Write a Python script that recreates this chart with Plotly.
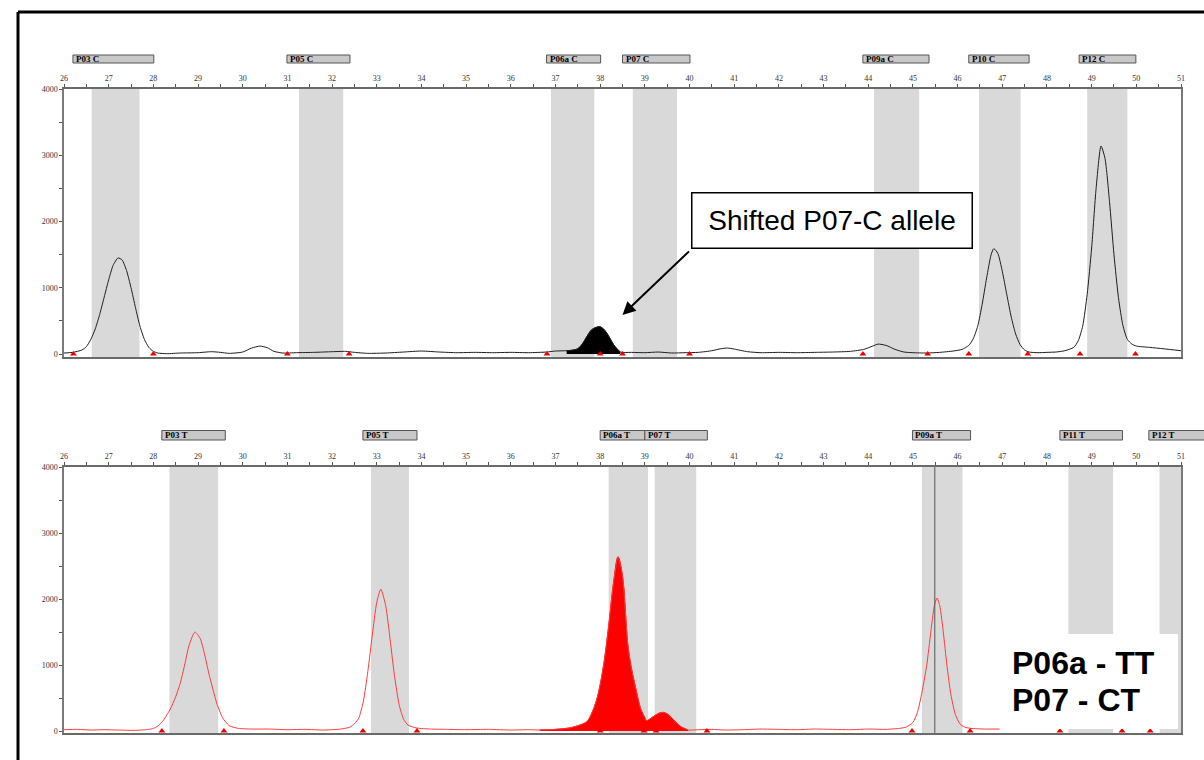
import plotly.graph_objects as go

# ---------------- data ----------------
X_RANGE = [26, 51]
y_tick_vals = [0, 1000, 2000, 3000, 4000]

# top panel (C channel) bins / bands
top_bins = ["P03 C", "P05 C", "P06a C", "P07 C", "P09a C", "P10 C", "P12 C"]
top_bin_start = [26.20, 30.99, 36.80, 38.50, 43.88, 46.25, 48.72]
top_bin_end = [28.01, 32.40, 38.01, 40.01, 45.36, 47.60, 49.99]
top_band_start = [26.62, 31.26, 36.90, 38.73, 44.13, 46.48, 48.90]
top_band_end = [27.69, 32.25, 37.87, 39.72, 45.14, 47.41, 49.80]
top_marker_x = [26.21, 28.0, 31.0, 32.38, 36.81, 38.0, 38.5, 40.0, 43.88, 45.33, 46.25, 47.57, 48.74, 49.98]

# bottom panel (T channel) bins / bands
bot_bins = ["P03 T", "P05 T", "P06a T", "P07 T", "P09a T", "P11 T", "P12 T"]
bot_bin_start = [28.19, 32.69, 38.00, 39.00, 44.99, 48.29, 50.28]
bot_bin_end = [29.61, 33.90, 39.00, 40.40, 46.29, 49.69, 51.60]
bot_band_start = [28.36, 32.87, 38.19, 39.22, 45.20, 48.48, 50.52]
bot_band_end = [29.45, 33.72, 39.07, 40.15, 46.11, 49.48, 51.00]
bot_marker_x = [28.19, 29.58, 32.69, 33.90, 38.0, 38.98, 39.25, 40.39, 44.98, 46.28, 48.29, 49.68, 50.31]
bot_cursor_x = 45.49

# top trace
top_x = [26.0, 26.2, 26.4, 26.5, 26.6, 26.7, 26.8, 26.9, 27.0, 27.1, 27.21, 27.3, 27.4, 27.5, 27.6, 27.7,
         27.8, 27.9, 28.0, 28.1, 28.3, 28.6, 29.0, 29.3, 29.5, 29.7, 30.0, 30.2, 30.39, 30.55, 30.7, 30.9,
         31.2, 31.6, 32.0, 32.3, 32.5, 32.8, 33.2, 33.6, 34.0, 34.4, 34.8, 35.2, 35.6, 36.0, 36.4, 36.8,
         37.0, 37.25, 37.4, 37.5, 37.6, 37.7, 37.8, 37.9, 38.0, 38.1, 38.2, 38.3, 38.45, 38.7, 39.0, 39.3,
         39.6, 39.9, 40.2, 40.5, 40.7, 40.85, 41.0, 41.3, 41.6, 42.0, 42.4, 42.8, 43.2, 43.6, 43.9, 44.1,
         44.22, 44.4, 44.6, 44.8, 45.0, 45.3, 45.6, 45.9, 46.1, 46.25, 46.35, 46.45, 46.55, 46.65, 46.75,
         46.81, 46.9, 47.0, 47.1, 47.2, 47.3, 47.4, 47.5, 47.6, 47.8, 48.0, 48.2, 48.4, 48.6, 48.7, 48.8,
         48.9, 49.0, 49.1, 49.21, 49.3, 49.4, 49.5, 49.6, 49.7, 49.8, 49.9, 50.0, 50.3, 50.6, 51.0]
top_y = [15, 25, 60, 110, 220, 380, 600, 860, 1120, 1340, 1450, 1420, 1260, 1000, 700, 420,
         220, 100, 40, 15, 5, 15, 20, 35, 25, 10, 30, 90, 120, 95, 40, 15,
         20, 25, 35, 40, 25, 10, 15, 30, 45, 30, 20, 25, 20, 25, 20, 30,
         45, 50, 60, 80, 150, 260, 360, 400, 410, 360, 260, 140, 30, 25, 20, 30,
         15, 20, 25, 50, 80, 90, 75, 35, 20, 25, 20, 25, 30, 40, 70, 120,
         150, 130, 70, 30, 20, 15, 25, 45, 70, 130, 230, 420, 750, 1150, 1500,
         1590, 1520, 1250, 900, 560, 300, 140, 60, 30, 20, 25, 30, 50, 100, 200, 420,
         900, 1600, 2500, 3140, 2950, 2300, 1500, 850, 430, 220, 150, 120, 100, 80, 50]
top_fill_range = [37.25, 38.45]

# bottom trace
bot_x = [26.0, 26.3, 26.6, 26.9, 27.2, 27.6, 27.9, 28.0, 28.1, 28.2, 28.37, 28.5, 28.6, 28.7, 28.8,
         28.93, 29.05, 29.15, 29.25, 29.42, 29.55, 29.7, 29.9, 30.2, 30.6, 31.0, 31.4, 31.8, 32.2,
         32.4, 32.5, 32.6, 32.7, 32.8, 32.9, 33.0, 33.09, 33.2, 33.3, 33.4, 33.5, 33.6, 33.7, 33.9,
         34.2, 34.6, 35.0, 35.5, 36.0, 36.4, 36.65, 37.0, 37.3, 37.5, 37.7, 37.8, 37.92, 38.0, 38.1,
         38.2, 38.3, 38.4, 38.5, 38.62, 38.7, 38.82, 38.9, 39.0, 39.04, 39.15, 39.3, 39.41, 39.5, 39.6,
         39.7, 39.8, 39.9, 39.97, 40.2, 40.5, 40.8, 41.2, 41.6, 42.0, 42.4, 42.8, 43.2, 43.6, 44.0,
         44.4, 44.7, 44.85, 45.0, 45.1, 45.2, 45.31, 45.4, 45.48, 45.54, 45.6, 45.68, 45.76, 45.85,
         45.95, 46.05, 46.15, 46.3, 46.6, 46.94]
bot_y = [20, 25, 15, 20, 15, 10, 25, 40, 75, 140, 320, 520, 720, 1000, 1300,
         1500, 1400, 1150, 850, 420, 200, 80, 40, 30, 30, 20, 25, 15, 30,
         60, 110, 200, 450, 900, 1450, 1950, 2150, 1900, 1380, 820, 400, 180, 90, 45,
         30, 25, 20, 25, 15, 20, 15, 25, 45, 80, 140, 250, 470, 700, 1100,
         1650, 2250, 2640, 2350, 1300, 950, 575, 350, 200, 156, 200, 265, 283, 260, 200,
         130, 70, 35, 15, 20, 25, 15, 20, 30, 25, 20, 30, 25, 20, 30,
         25, 40, 60, 130, 280, 580, 1000, 1500, 1900, 2015, 1900, 1500, 1000, 550,
         250, 110, 60, 40, 30, 30]
bot_fill_range = [36.65, 39.97]

# ---------------- geometry ----------------
W, H = 1204, 760
XDOM = [64 / W, 1181 / W]
TOP_DOM = [1 - 357 / H, 1 - 89 / H]
BOT_DOM = [1 - 733 / H, 1 - 467 / H]
# helper axis that continues the same x scale to the right page edge (for label boxes)
X3_RANGE = [X_RANGE[0], X_RANGE[0] + (X_RANGE[1] - X_RANGE[0]) * (1 - XDOM[0]) / (XDOM[1] - XDOM[0])]

fig = go.Figure()

def subset(xs, ys, rng):
    px, py = [], []
    for a, b in zip(xs, ys):
        if rng[0] <= a <= rng[1]:
            px.append(a)
            py.append(b)
    return px, py

# top fill + line
fx, fy = subset(top_x, top_y, top_fill_range)
fig.add_trace(go.Scatter(x=fx, y=fy, xaxis="x", yaxis="y", mode="lines", fill="tozeroy",
                         fillcolor="black", line=dict(color="black", width=1, shape="spline"),
                         hoverinfo="skip"))
fig.add_trace(go.Scatter(x=top_x, y=top_y, xaxis="x", yaxis="y", mode="lines",
                         line=dict(color="#1e1e1e", width=1, shape="spline", smoothing=0.6),
                         hoverinfo="skip"))
fig.add_trace(go.Scatter(x=top_marker_x, y=[0] * len(top_marker_x), xaxis="x", yaxis="y",
                         mode="markers", cliponaxis=False,
                         marker=dict(symbol="triangle-up", size=6, color="#ee0000"), hoverinfo="skip"))

# bottom fill + line
fx, fy = subset(bot_x, bot_y, bot_fill_range)
fig.add_trace(go.Scatter(x=fx, y=fy, xaxis="x2", yaxis="y2", mode="lines", fill="tozeroy",
                         fillcolor="#ff0000", line=dict(color="#ee0000", width=1, shape="spline"),
                         hoverinfo="skip"))
fig.add_trace(go.Scatter(x=bot_x, y=bot_y, xaxis="x2", yaxis="y2", mode="lines",
                         line=dict(color="#ff3b3b", width=1, shape="spline", smoothing=0.6),
                         hoverinfo="skip"))
fig.add_trace(go.Scatter(x=bot_marker_x, y=[0] * len(bot_marker_x), xaxis="x2", yaxis="y2",
                         mode="markers", cliponaxis=False,
                         marker=dict(symbol="triangle-up", size=6, color="#ee0000"), hoverinfo="skip"))
# invisible trace that anchors the helper axis x3
fig.add_trace(go.Scatter(x=[bot_bin_start[-1]], y=[0], xaxis="x3", yaxis="y", mode="markers",
                         marker=dict(opacity=0), hoverinfo="skip", showlegend=False))

shapes = []
annotations = []
label_font = dict(family="Liberation Serif", size=9, color="black")

def add_panel(xref, yref, bins, bs, be, bands_s, bands_e, ybox):
    for s, e in zip(bands_s, bands_e):
        shapes.append(dict(type="rect", xref=xref, yref=yref + " domain", x0=s, x1=e, y0=0, y1=1,
                           fillcolor="#d9d9d9", line=dict(width=0), layer="below"))
    for name, s, e in zip(bins, bs, be):
        shapes.append(dict(type="rect", xref="x3", yref="paper", x0=s, x1=e, y0=ybox[0], y1=ybox[1],
                           fillcolor="#c8c8c8", line=dict(color="#555555", width=1), layer="above"))
        annotations.append(dict(x=s, y=(ybox[0] + ybox[1]) / 2, xref="x3", yref="paper",
                                text="<b>" + name + "</b>", showarrow=False, xanchor="left",
                                yanchor="middle", xshift=1, font=label_font))

add_panel("x", "y", top_bins, top_bin_start, top_bin_end, top_band_start, top_band_end,
          [1 - 63 / H, 1 - 55 / H])
add_panel("x2", "y2", bot_bins, bot_bin_start, bot_bin_end, bot_band_start, bot_band_end,
          [1 - 440 / H, 1 - 430.5 / H])

# cursor line in bottom panel
shapes.append(dict(type="line", xref="x2", yref="y2 domain", x0=bot_cursor_x, x1=bot_cursor_x,
                   y0=0, y1=1, line=dict(color="#555555", width=1)))

# white box behind genotype text
shapes.append(dict(type="rect", xref="paper", yref="paper", x0=1000 / W, x1=1178 / W,
                   y0=1 - 729 / H, y1=1 - 634 / H, fillcolor="white", line=dict(width=0),
                   layer="above"))

# outer black frame
shapes.append(dict(type="line", xref="paper", yref="paper", x0=18 / W, x1=1, y0=1 - 12 / H,
                   y1=1 - 12 / H, line=dict(color="black", width=3)))
shapes.append(dict(type="line", xref="paper", yref="paper", x0=18 / W, x1=18 / W, y0=0,
                   y1=1 - 12 / H, line=dict(color="black", width=3)))

# callout
annotations.append(dict(x=832 / W, y=1 - 220.5 / H, xref="paper", yref="paper",
                        xanchor="center", yanchor="middle",
                        text="Shifted P07-C allele", showarrow=False,
                        font=dict(family="Liberation Sans", size=28, color="black"),
                        bgcolor="white", bordercolor="black", borderwidth=1.5, borderpad=0,
                        width=279, height=54, align="center"))
annotations.append(dict(x=38.5, y=590, xref="x", yref="y", text="", showarrow=True,
                        ax=68, ay=-65, arrowhead=2, arrowsize=1.3, arrowwidth=2,
                        arrowcolor="black"))

# genotype text
annotations.append(dict(x=1010 / W, y=1 - 663 / H, xref="paper", yref="paper",
                        text="<b>P06a - TT</b>", showarrow=False, xanchor="left", yanchor="middle",
                        font=dict(family="Liberation Sans", size=32, color="black")))
annotations.append(dict(x=1010 / W, y=1 - 700 / H, xref="paper", yref="paper",
                        text="<b>P07 - CT</b>", showarrow=False, xanchor="left", yanchor="middle",
                        font=dict(family="Liberation Sans", size=32, color="black")))

tick_font = dict(family="Liberation Serif", size=8, color="#333333")

def xaxis(anchor):
    return dict(domain=XDOM, anchor=anchor, range=X_RANGE, side="top", tick0=26, dtick=1,
                ticks="outside", ticklen=3, tickcolor="#555555", tickwidth=1,
                minor=dict(dtick=0.5, ticks="outside", ticklen=3, tickcolor="#555555"),
                showline=True, linecolor="#6a6a6a", linewidth=1.5, mirror=True,
                showgrid=False, zeroline=False, tickfont=tick_font, fixedrange=True)

def yaxis(anchor, dom, rng):
    return dict(domain=dom, anchor=anchor, range=rng, tickvals=y_tick_vals,
                ticks="outside", ticklen=3, tickcolor="#555555",
                minor=dict(dtick=500, tick0=0, ticks="outside", ticklen=3, tickcolor="#555555"),
                showline=True, linecolor="#7a7a7a", linewidth=1.5, mirror=True,
                showgrid=False, zeroline=False, tickfont=tick_font, fixedrange=True)

fig.update_layout(
    width=W, height=H, margin=dict(l=0, r=0, t=0, b=0, autoexpand=False),
    paper_bgcolor="white", plot_bgcolor="rgba(0,0,0,0)", showlegend=False,
    xaxis=xaxis("y"), yaxis=yaxis("x", TOP_DOM, [-45, 4000]),
    xaxis2=xaxis("y2"), yaxis2=yaxis("x2", BOT_DOM, [-30, 4000]),
    xaxis3=dict(domain=[XDOM[0], 1], range=X3_RANGE, anchor="y", visible=False, fixedrange=True),
    shapes=shapes, annotations=annotations,
)

fig.write_html("out.html")
